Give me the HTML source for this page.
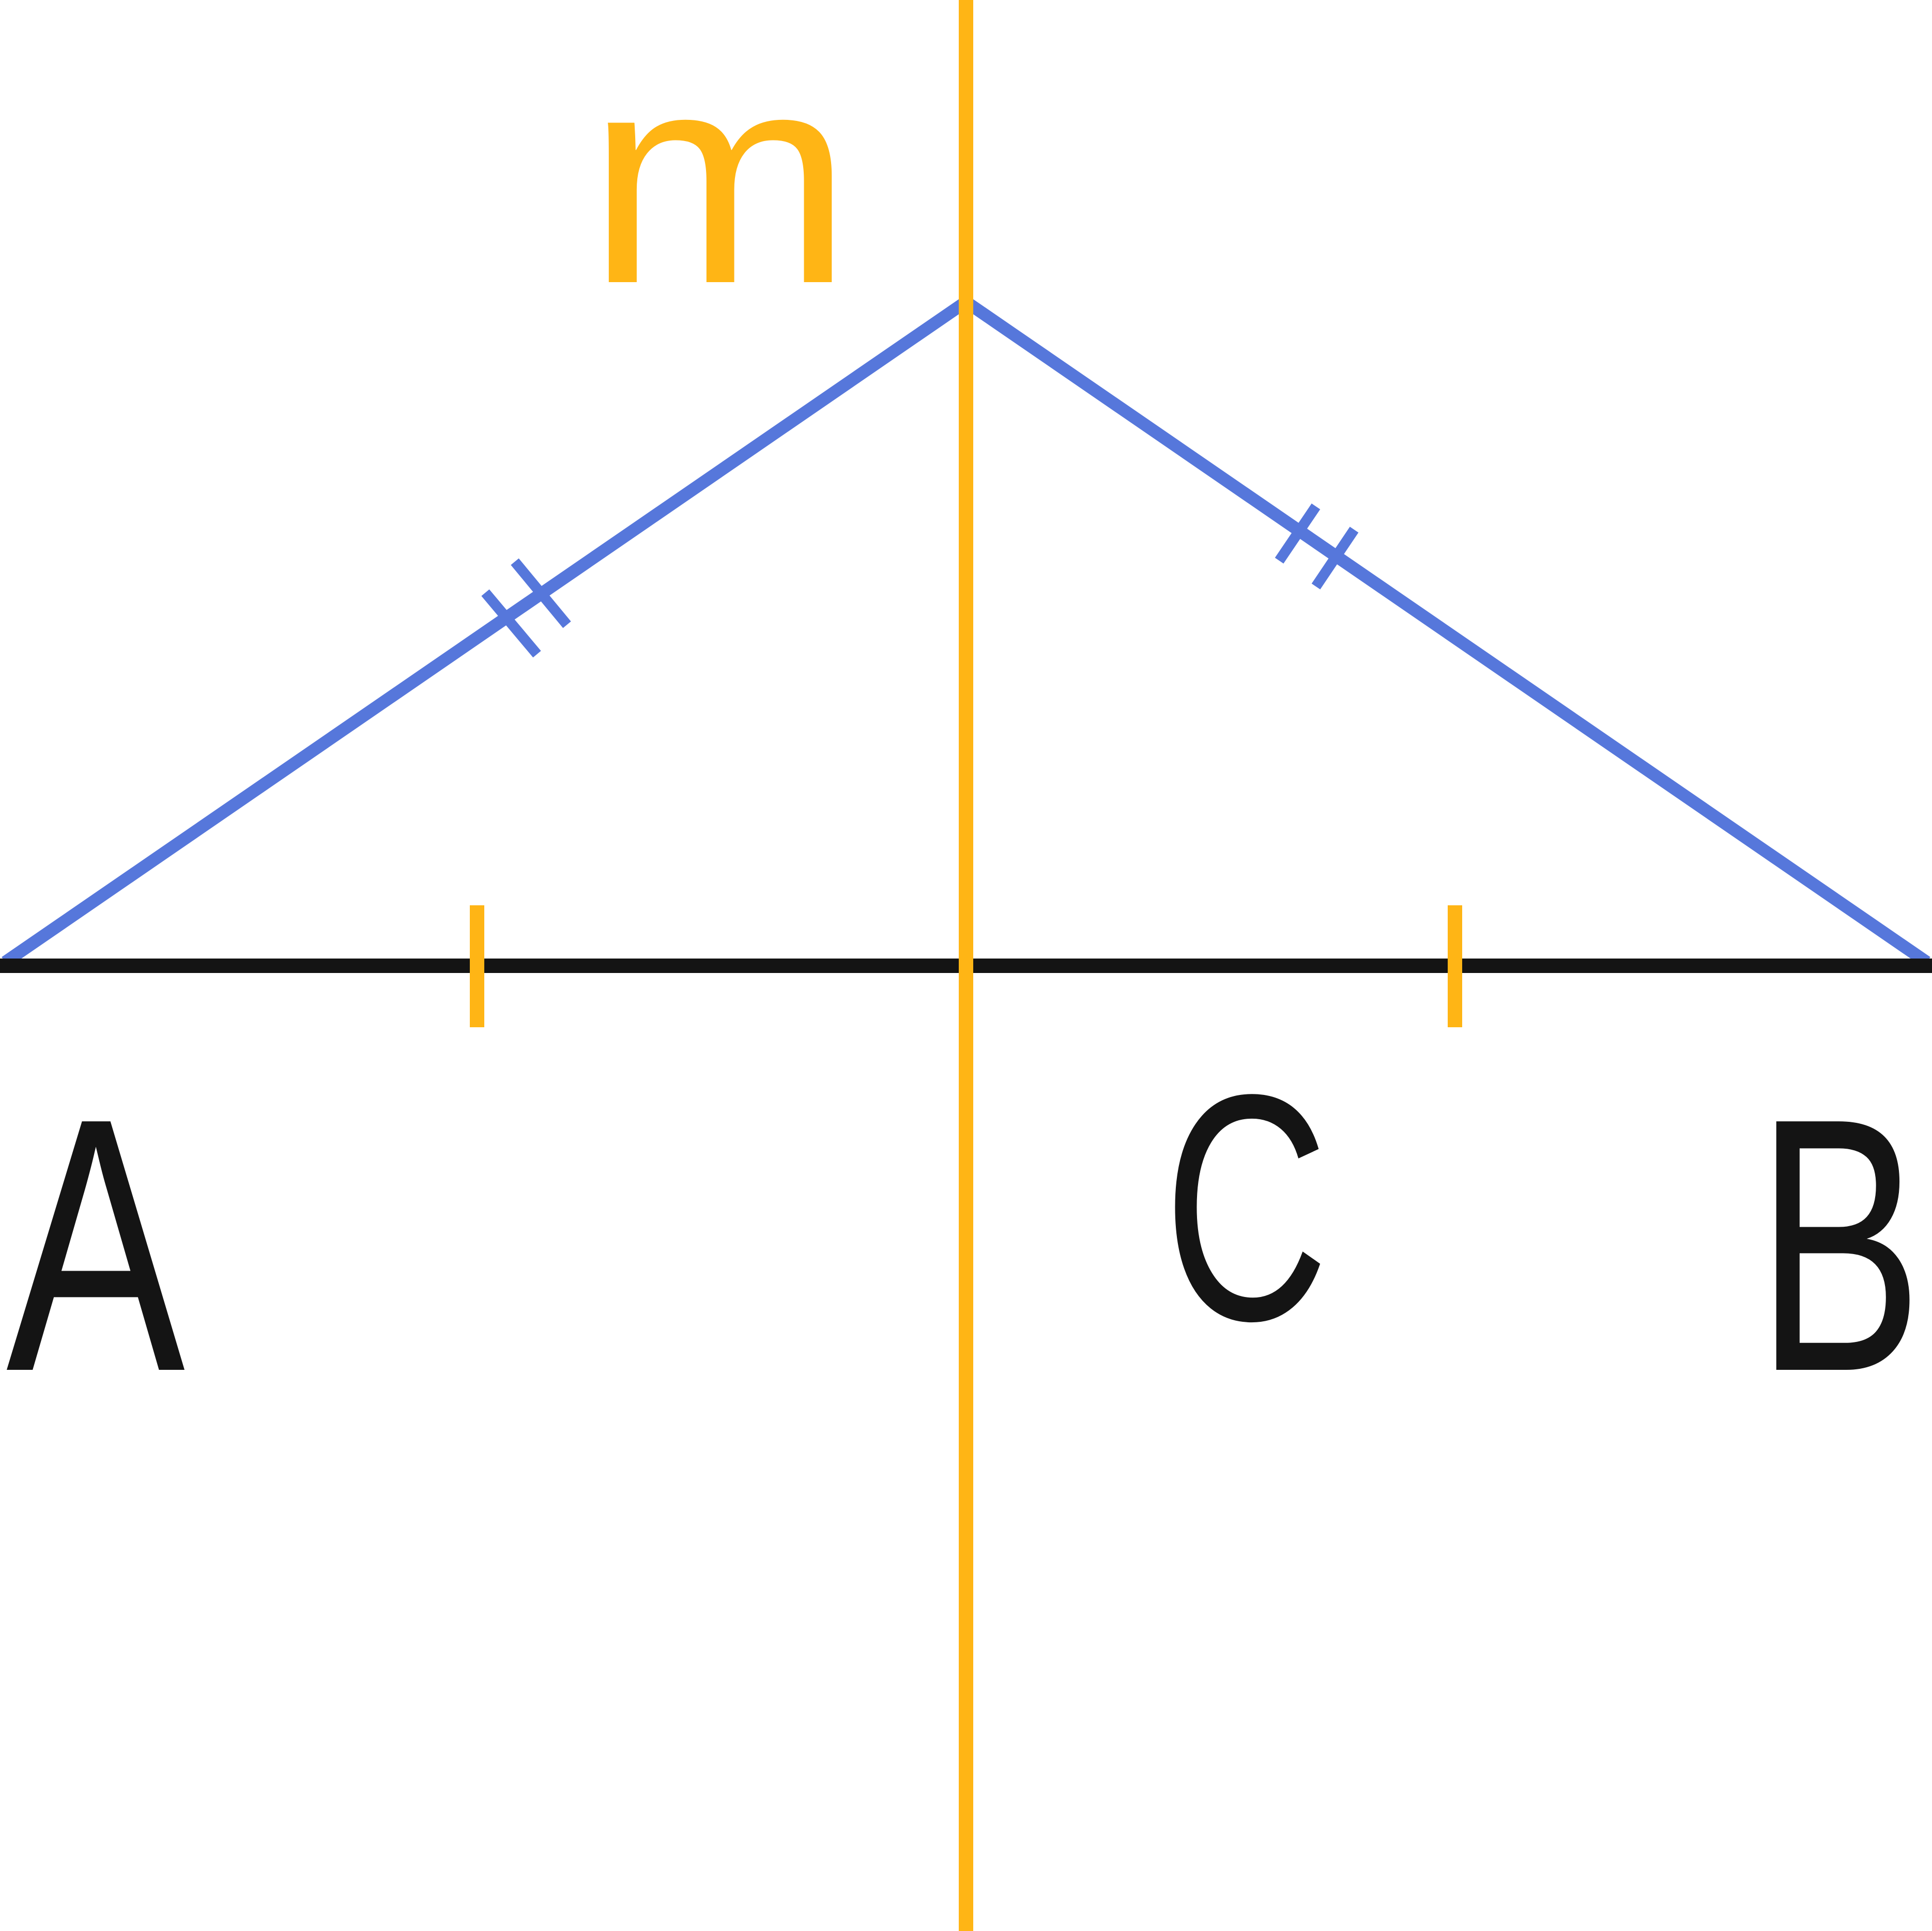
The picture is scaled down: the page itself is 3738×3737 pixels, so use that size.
<!DOCTYPE html>
<html>
<head>
<meta charset="utf-8">
<style>
html,body{margin:0;padding:0;background:#fff;}
svg{display:block;}
text{font-family:"Liberation Sans",sans-serif;}
</style>
</head>
<body>
<svg width="3738" height="3737" viewBox="0 0 3738 3737" xmlns="http://www.w3.org/2000/svg">
<rect width="3738" height="3737" fill="#fff"/>
<line x1="10" y1="1862" x2="1869" y2="584" stroke="#5677DB" stroke-width="24"/>
<line x1="1869" y1="584" x2="3728" y2="1862" stroke="#5677DB" stroke-width="24"/>
<line x1="939" y1="1147" x2="1039" y2="1266" stroke="#5677DB" stroke-width="20"/>
<line x1="996" y1="1087" x2="1097" y2="1209" stroke="#5677DB" stroke-width="20"/>
<line x1="2546" y1="980" x2="2475" y2="1085" stroke="#5677DB" stroke-width="20"/>
<line x1="2620" y1="1025" x2="2546" y2="1135" stroke="#5677DB" stroke-width="20"/>
<line x1="0" y1="1869" x2="3738" y2="1869" stroke="#141414" stroke-width="28"/>
<line x1="1869" y1="0" x2="1869" y2="3737" stroke="#FFB515" stroke-width="28"/>
<line x1="923" y1="1752" x2="923" y2="1988" stroke="#FFB515" stroke-width="28"/>
<line x1="2815" y1="1752" x2="2815" y2="1988" stroke="#FFB515" stroke-width="28"/>
<text x="1135" y="546" font-size="584" fill="#FFB515" textLength="515" lengthAdjust="spacingAndGlyphs">m</text>
<text x="12" y="2651" font-size="699" fill="#141414" textLength="346" lengthAdjust="spacingAndGlyphs">A</text>
<text x="2251" y="2553" font-size="624" fill="#141414" textLength="320" lengthAdjust="spacingAndGlyphs">C</text>
<text x="3397" y="2651" font-size="699" fill="#141414" textLength="323" lengthAdjust="spacingAndGlyphs">B</text>
</svg>
</body>
</html>
